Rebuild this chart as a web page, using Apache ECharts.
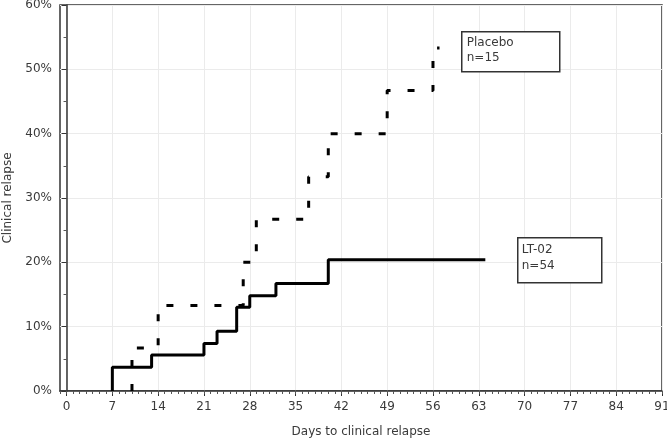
<!DOCTYPE html>
<html>
<head>
<meta charset="utf-8">
<script src="https://cdn.jsdelivr.net/npm/echarts@6/dist/echarts.min.js"></script>
<style>
  html, body { margin: 0; padding: 0; background: #fff; }
  #chart { width: 667px; height: 441px; }
</style>
</head>
<body>
<div id="chart"></div>
<script>
// days ticks on the x axis
const dayTicks = [0, 7, 14, 21, 28, 35, 42, 49, 56, 63, 70, 77, 84, 91];

// Kaplan-Meier steps: day of event and cumulative relapse (%) after it
const lt02Days = [7, 7, 13, 21, 23, 26, 28, 32, 40, 64];
const lt02Relapse = [0, 3.7, 5.6, 7.4, 9.3, 13.0, 14.8, 16.7, 20.4, 20.4];

const placeboDays = [10, 10, 14, 27, 29, 37, 40, 49, 56, 57];
const placeboRelapse = [0, 6.7, 13.3, 20, 26.7, 33.3, 40, 46.7, 53.3, 53.3];

const textColor = '#3a3a3a';
const font = 'DejaVu Sans';

const chart = echarts.init(document.getElementById('chart'));

const toPoints = (xs, ys) => xs.map((x, i) => [x, ys[i]]);

const option = {
  animation: false,
  grid: {
    left: 60,
    right: 5,
    top: 5,
    bottom: 50,
    containLabel: false,
    outerBoundsMode: 'none',
    show: true,
    borderColor: '#333',
    borderWidth: 1.5,
    backgroundColor: 'transparent',
  },
  xAxis: [
    {
      type: 'value',
      min: -1,
      max: 91,
      position: 'bottom',
      name: 'Days to clinical relapse',
      nameLocation: 'middle',
      nameGap: 35,
      nameTextStyle: { color: textColor, fontSize: 12, fontFamily: font },
      axisLine: { show: true, lineStyle: { color: '#333', width: 1.5 } },
      axisTick: { show: true, length: 5, customValues: dayTicks, lineStyle: { color: '#333' } },
      axisLabel: { customValues: dayTicks, color: textColor, fontSize: 12, fontFamily: font, margin: 10 },
      splitLine: { show: true, lineStyle: { color: '#ebebeb', width: 1 } },
    },
    {
      // small day ticks
      type: 'value',
      min: -1,
      max: 91,
      interval: 1,
      position: 'bottom',
      axisLine: { show: false },
      axisTick: { show: true, length: 3, lineStyle: { color: '#555' } },
      axisLabel: { show: false },
      splitLine: { show: false },
    },
  ],
  yAxis: {
    type: 'value',
    min: 0,
    max: 60,
    interval: 10,
    name: 'Clinical relapse',
    nameLocation: 'middle',
    nameGap: 46,
    nameTextStyle: { color: textColor, fontSize: 12, fontFamily: font },
    axisLine: { show: true, lineStyle: { color: '#333', width: 1.5 } },
    axisTick: { show: true, length: 5, lineStyle: { color: '#333' } },
    minorTick: { show: true, splitNumber: 2, length: 3, lineStyle: { color: '#555' } },
    axisLabel: { color: textColor, fontSize: 12, fontFamily: font, margin: 8, formatter: '{value}%' },
    splitLine: { show: true, lineStyle: { color: '#ebebeb', width: 1 } },
  },
  series: [
    {
      name: 'LT-02',
      type: 'line',
      step: 'end',
      symbol: 'none',
      data: toPoints(lt02Days, lt02Relapse),
      lineStyle: { color: '#000', width: 3 },
      z: 10,
    },
    {
      name: 'Placebo',
      type: 'line',
      step: 'end',
      symbol: 'none',
      data: toPoints(placeboDays, placeboRelapse),
      lineStyle: { color: '#000', width: 3, type: [7, 17] },
      z: 10,
    },
  ],
  // labelled boxes next to each curve
  graphic: [
    {
      type: 'group',
      left: 461,
      top: 31,
      z: 100,
      children: [
        { type: 'rect', z: 100, shape: { x: 0, y: 0, width: 98, height: 40 }, style: { fill: '#fff', stroke: '#333', lineWidth: 1.5 } },
        { type: 'text', z: 101, x: 5, y: 4, style: { text: 'Placebo\nn=15', fill: textColor, font: '12px "DejaVu Sans"', lineHeight: 15 } },
      ],
    },
    {
      type: 'group',
      left: 517,
      top: 237,
      z: 100,
      children: [
        { type: 'rect', z: 100, shape: { x: 0, y: 0, width: 84, height: 45 }, style: { fill: '#fff', stroke: '#333', lineWidth: 1.5 } },
        { type: 'text', z: 101, x: 4, y: 4, style: { text: 'LT-02\nn=54', fill: textColor, font: '12px "DejaVu Sans"', lineHeight: 16 } },
      ],
    },
  ],
};

chart.setOption(option);
</script>
</body>
</html>
